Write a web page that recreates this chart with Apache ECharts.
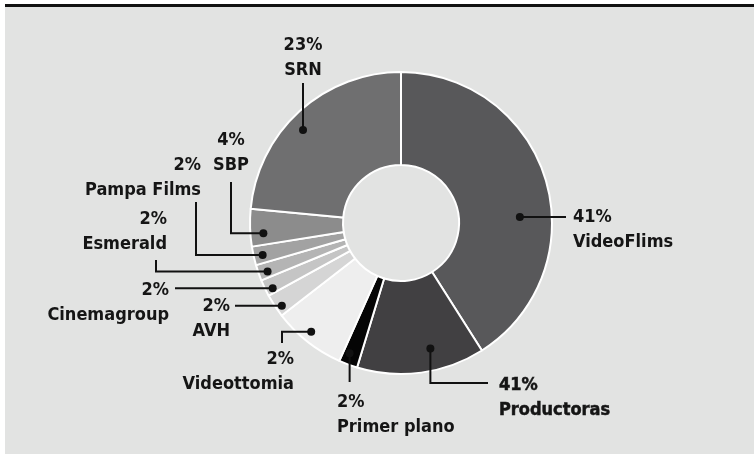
<!DOCTYPE html>
<html lang="es">
<head>
<meta charset="UTF-8">
<title>Distribución</title>
<script src="https://cdn.jsdelivr.net/npm/echarts@6/dist/echarts.min.js"></script>
<style>
  body { margin: 0; background: #fff; }
  #main { width: 754px; height: 455px; }
</style>
</head>
<body>
<div id="main"></div>
<script>
// slice sizes (the printed percentages do not add up)
const names = ['VideoFlims', 'Productoras', 'Primer plano', 'Videottomia', 'AVH',
  'Cinemagroup', 'Esmerald', 'Pampa Films', 'SBP', 'SRN'];
const shares = [41, 13.7, 2, 7.8, 2.5, 1.8, 1.7, 2, 4, 23.5];
const pctLabels = ['41%', '41%', '2%', '2%', '2%', '2%', '2%', '2%', '4%', '23%'];

const colors = ['#58585a', '#414042', '#050505', '#eeeeee', '#d5d5d5',
  '#c5c5c5', '#b4b4b4', '#a2a2a2', '#8c8c8c', '#6f6f70'];

// callout layout: dot spot inside slice (fraction of slice angle, radius),
// leader path and where the text sits
const callouts = {
  'VideoFlims':  { f: 0.59, r: 119, path: 'h',  to: [566],      text: [573, 217, 'left'] },
  'Productoras': { f: 0.39, r: 129, path: 'vh', to: [383, 488], text: [499, 385, 'left'], heavy: true },
  'Primer plano':{ f: 0.64, r: 140, path: 'v',  to: [382],      text: [337, 402, 'left'] },
  'Videottomia': { f: 0.55, r: 141, path: 'hv', to: [282, 343], text: [294, 359, 'right'] },
  'AVH':         { f: 0.34, r: 145, path: 'h',  to: [235],      text: [230, 306, 'right'] },
  'Cinemagroup': { f: 0.28, r: 144, path: 'h',  to: [175],      text: [169, 290, 'right'] },
  'Esmerald':    { f: 0.38, r: 142, path: 'hv', to: [156, 260], text: [167, 219, 'right'] },
  'Pampa Films': { f: 0.44, r: 142, path: 'hv', to: [196, 202], text: [201, 165, 'right'] },
  'SBP':         { f: 0.33, r: 138, path: 'hv', to: [231, 182], text: [231, 140, 'center'] },
  'SRN':         { f: 0.45, r: 135, path: 'v',  to: [83],       text: [303, 45, 'center'] }
};

const cx = 401, cy = 223;
const lineH = 25;
const labelFont = 'bold 18px "DejaVu Sans Condensed", "DejaVu Sans", sans-serif';

var chartDom = document.getElementById('main');
var myChart = echarts.init(chartDom);

// angles follow the pie: start at 12 o'clock, clockwise
const total = shares.reduce(function (a, b) { return a + b; }, 0);
let graphics = [
  { type: 'rect', z: -10, shape: { x: 5, y: 7, width: 749, height: 447 }, style: { fill: '#e2e3e2' } },
  { type: 'rect', z: -10, shape: { x: 5, y: 4, width: 749, height: 3 }, style: { fill: '#111' } }
];
let acc = 0;
names.forEach(function (name, i) {
  const c = callouts[name];
  const a0 = acc / total * 360;
  acc += shares[i];
  const a1 = acc / total * 360;
  const ang = (a0 + (a1 - a0) * c.f) * Math.PI / 180;
  const dx = cx + c.r * Math.sin(ang);
  const dy = cy - c.r * Math.cos(ang);
  let pts = [[dx, dy]];
  if (c.path === 'h') pts.push([c.to[0], dy]);
  else if (c.path === 'v') pts.push([dx, c.to[0]]);
  else if (c.path === 'hv') { pts.push([c.to[0], dy]); pts.push([c.to[0], c.to[1]]); }
  else if (c.path === 'vh') { pts.push([dx, c.to[0]]); pts.push([c.to[1], c.to[0]]); }
  graphics.push({
    type: 'polyline', z: 50, shape: { points: pts },
    style: { stroke: '#111', lineWidth: 2, fill: null }
  });
  graphics.push({
    type: 'circle', z: 51, shape: { cx: dx, cy: dy, r: 4 }, style: { fill: '#111' }
  });
  graphics.push({
    type: 'text', z: 52, x: c.text[0], y: c.text[1] - lineH / 2,
    style: {
      text: pctLabels[i] + '\n' + name,
      fill: '#151515',
      stroke: c.heavy ? '#151515' : null,
      lineWidth: c.heavy ? 0.5 : 0,
      font: labelFont,
      lineHeight: lineH,
      align: c.text[2],
      verticalAlign: 'top'
    }
  });
});

var option = {
  backgroundColor: '#fff',
  animation: false,
  graphic: graphics,
  series: [
    {
      type: 'pie',
      center: [cx, cy],
      radius: [58, 151],
      startAngle: 90,
      clockwise: true,
      silent: true,
      z: 5,
      label: { show: false },
      labelLine: { show: false },
      itemStyle: { borderColor: '#fff', borderWidth: 2 },
      data: names.map(function (n, i) {
        return { name: n, value: shares[i], itemStyle: { color: colors[i] } };
      })
    }
  ]
};
option && myChart.setOption(option);
</script>
</body>
</html>
